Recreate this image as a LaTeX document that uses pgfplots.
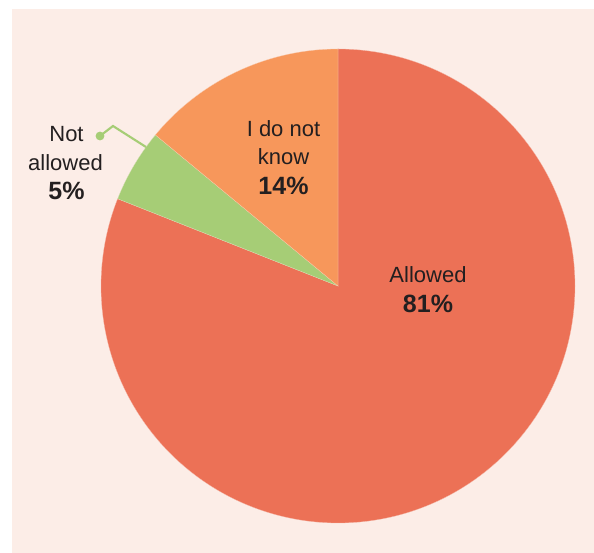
\documentclass[border=0pt]{standalone}
\usepackage{pgfplots}
\pgfplotsset{compat=1.18}
\usepackage{pgfplotstable}
\usepackage{fontspec}
\setmainfont{Liberation Sans}
\definecolor{bgc}{HTML}{FCEDE7}
\definecolor{cA}{HTML}{EC7156}
\definecolor{cB}{HTML}{A6CD76}
\definecolor{cC}{HTML}{F7975B}
\definecolor{txt}{HTML}{231F20}

\pgfplotstableread{
label value col
Allowed 81 cA
Notallowed 5 cB
Idonotknow 14 cC
}\piedata

\begin{document}
\begin{tikzpicture}
\begin{axis}[x=0.75pt,y=0.75pt,xmin=0,xmax=594,ymin=0,ymax=553,hide axis,clip=false]
\fill[white] (axis cs:0,0) rectangle (axis cs:594,553);
\fill[bgc] (axis cs:12,0) rectangle (axis cs:594,544);
\pgfplotstablegetrowsof{\piedata}
\pgfmathtruncatemacro{\nrows}{\pgfplotsretval-1}
\def\startang{90}
\pgfplotsforeachungrouped \i in {0,...,\nrows}{
  \pgfplotstablegetelem{\i}{value}\of\piedata
  \let\val=\pgfplotsretval
  \pgfplotstablegetelem{\i}{col}\of\piedata
  \let\col=\pgfplotsretval
  \pgfmathsetmacro{\endang}{\startang-3.6*\val}
  \edef\temp{\noexpand\fill[\col,draw=bgc!60!\col,line width=0.2pt] (axis cs:338,267) -- ++(\startang:177.75pt) arc[start angle=\startang,end angle=\endang,radius=177.75pt] -- cycle;}
  \temp
  \global\let\startang=\endang
}
\draw[cB, line width=1.6pt] (axis cs:100,417) -- (axis cs:113,427) -- (axis cs:146,406);
\fill[cB] (axis cs:100,417) circle[radius=3.3pt];
\tikzset{lab/.style={anchor=base,inner sep=0pt,text=txt,font=\fontsize{16.5}{20}\selectfont},
         pct/.style={anchor=base,inner sep=0pt,text=txt,font=\fontsize{18.75}{22}\selectfont\bfseries}}
\node[lab] at (axis cs:428,270) {Allowed};
\node[pct] at (axis cs:428,240) {81\%};
\node[lab] at (axis cs:283.5,416) {I do not};
\node[lab] at (axis cs:283.5,388) {know};
\node[pct] at (axis cs:283.5,358) {14\%};
\node[lab] at (axis cs:66.5,411) {Not};
\node[lab] at (axis cs:65.5,382) {allowed};
\node[pct] at (axis cs:66.5,353) {5\%};
\end{axis}
\end{tikzpicture}
\end{document}
